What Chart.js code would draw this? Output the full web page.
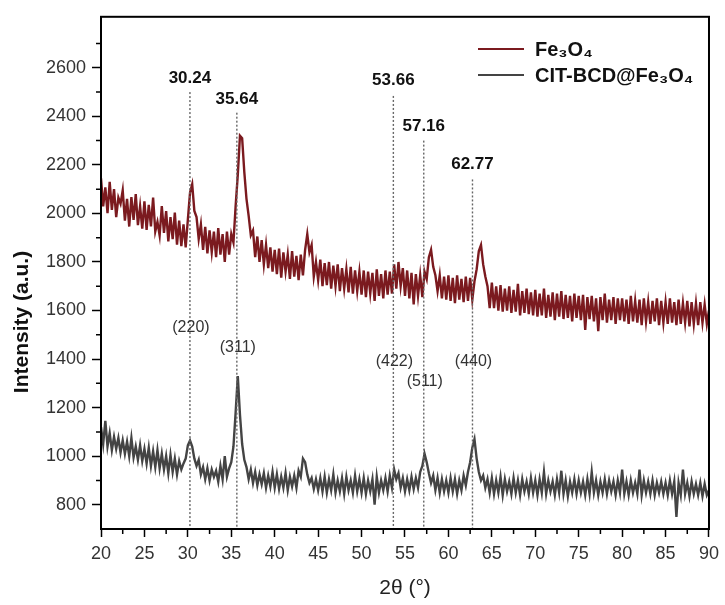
<!DOCTYPE html>
<html>
<head>
<meta charset="utf-8">
<script src="https://cdn.jsdelivr.net/npm/chart.js@4.4.1/dist/chart.umd.min.js"></script>
<style>
  html, body { margin: 0; padding: 0; background: #fff; }
  #wrap { width: 725px; height: 605px; }
</style>
</head>
<body>
<div id="wrap"><canvas id="xrd"></canvas></div>
<script>
// XRD patterns, every 0.25 deg from 20 to 90
const angleStart = 20;
const angleStep = 0.25;

const fe3o4 = [
  2145, 2029, 2107, 2001, 2130, 2015, 2100, 1985, 2065, 2040, 2095, 1970, 2060, 1946, 2067, 1973, 2080, 1952, 2030, 1937,
  2050, 1932, 2035, 1947, 2065, 1926, 1965, 1909, 2030, 1920, 2010, 1885, 1985, 1894, 2003, 1871, 1970, 1865, 1955, 1860,
  1975, 2085, 2120, 2010, 1985, 1895, 1955, 1850, 1945, 1835, 1930, 1840, 1925, 1820, 1940, 1830, 1915, 1800, 1925, 1830,
  1915, 1880, 2030, 2160, 2320, 2310, 2170, 2060, 1990, 1910, 1930, 1820, 1905, 1800, 1890, 1790, 1870, 1775, 1860, 1760,
  1850, 1750, 1855, 1735, 1840, 1760, 1830, 1730, 1845, 1740, 1825, 1725, 1830, 1745, 1850, 1915, 1840, 1870, 1740, 1800,
  1725, 1810, 1700, 1795, 1705, 1800, 1690, 1785, 1700, 1790, 1680, 1775, 1690, 1770, 1675, 1780, 1670, 1765, 1680, 1760,
  1665, 1765, 1655, 1760, 1670, 1755, 1640, 1770, 1660, 1750, 1650, 1765, 1665, 1760, 1670, 1790, 1690, 1800, 1700, 1775,
  1660, 1765, 1650, 1755, 1625, 1750, 1660, 1745, 1655, 1760, 1730, 1820, 1850, 1780, 1745, 1680, 1745, 1650, 1740, 1645,
  1745, 1640, 1735, 1630, 1745, 1645, 1730, 1635, 1740, 1640, 1735, 1645, 1720, 1770, 1845, 1870, 1790, 1740, 1700, 1610,
  1715, 1610, 1700, 1600, 1705, 1595, 1690, 1600, 1700, 1590, 1685, 1595, 1710, 1580, 1680, 1590, 1690, 1585, 1675, 1580,
  1685, 1575, 1670, 1580, 1690, 1570, 1665, 1575, 1675, 1560, 1670, 1575, 1680, 1565, 1665, 1570, 1660, 1555, 1670, 1570,
  1660, 1560, 1665, 1520, 1655, 1565, 1660, 1555, 1650, 1515, 1655, 1560, 1670, 1550, 1645, 1560, 1655, 1545, 1650, 1560,
  1650, 1555, 1645, 1545, 1660, 1555, 1640, 1550, 1645, 1540, 1650, 1555, 1635, 1545, 1640, 1555, 1650, 1540, 1640, 1550,
  1635, 1545, 1650, 1550, 1635, 1540, 1645, 1545, 1630, 1550, 1640, 1535, 1635, 1545, 1630, 1540, 1635, 1550, 1625, 1545, 1600
];

const citBcd = [
  1120, 1050, 1145, 1040, 1095, 1025, 1080, 1030, 1075, 1015, 1065, 1010, 1060, 1000, 1075, 995, 1040, 985, 1045, 980,
  1030, 970, 1035, 960, 1020, 955, 1025, 950, 1010, 945, 1000, 930, 1005, 935, 990, 925, 980, 945, 970, 990,
  1045, 1065, 1040, 990, 960, 985, 925, 955, 905, 950, 900, 945, 915, 940, 895, 960, 905, 1000, 915, 950,
  975, 1040, 1180, 1330, 1170, 1050, 985, 955, 905, 945, 890, 935, 880, 925, 885, 930, 870, 920, 875, 935,
  870, 925, 865, 915, 870, 930, 860, 915, 875, 920, 870, 940, 915, 990, 975, 925, 890, 910, 865, 905,
  860, 910, 855, 915, 850, 905, 860, 925, 850, 900, 855, 910, 845, 915, 860, 900, 850, 920, 855, 905,
  850, 910, 845, 900, 855, 905, 800, 915, 850, 900, 860, 910, 855, 920, 870, 945, 905, 930, 870, 910,
  855, 905, 860, 915, 865, 910, 870, 935, 960, 1010, 975, 930, 890, 920, 860, 910, 850, 905, 855, 900,
  850, 910, 855, 905, 845, 900, 860, 920, 880, 935, 975, 1035, 1070, 990, 935, 900, 920, 870, 905, 850,
  910, 845, 900, 850, 915, 840, 905, 855, 895, 845, 910, 850, 900, 840, 905, 855, 895, 845, 910, 850,
  900, 840, 905, 850, 935, 845, 900, 855, 895, 840, 905, 850, 940, 845, 900, 835, 895, 850, 905, 845,
  900, 850, 895, 840, 905, 845, 935, 850, 900, 840, 895, 850, 905, 845, 900, 855, 895, 840, 900, 850,
  945, 845, 895, 840, 900, 850, 890, 845, 945, 840, 900, 850, 895, 845, 900, 840, 890, 850, 895, 845,
  890, 840, 900, 845, 895, 750, 890, 840, 945, 845, 890, 835, 895, 845, 885, 840, 890, 835, 885, 840, 860
];

// reflections marked on the figure
const peakAngles = [30.24, 35.64, 53.66, 57.16, 62.77];
const peakLabels = ["30.24", "35.64", "53.66", "57.16", "62.77"];
const millerLabels = ["(220)", "(311)", "(422)", "(511)", "(440)"];

const seriesNames = ["Fe\u2083O\u2084", "CIT-BCD@Fe\u2083O\u2084"];

// where the annotations sit (intensity units)
const peakLabelY = [2558, 2472, 2550, 2357, 2202];
const dashTopY = [2500, 2415, 2484, 2300, 2140];
const millerY = [1528, 1446, 1390, 1308, 1390];

const FONT = "'Liberation Sans', Arial, Helvetica, sans-serif";
Chart.defaults.font.family = FONT;

const toPoints = arr => arr.map((v, i) => ({ x: angleStart + i * angleStep, y: v }));

const decor = {
  id: "decor",
  afterDraw(chart) {
    const { ctx, chartArea: a, scales: { x, y } } = chart;
    ctx.save();

    // dashed peak markers
    ctx.strokeStyle = "#666";
    ctx.lineWidth = 1.4;
    ctx.setLineDash([2, 2]);
    peakAngles.forEach((p, i) => {
      const px = x.getPixelForValue(p);
      ctx.beginPath();
      ctx.moveTo(px, y.getPixelForValue(dashTopY[i]));
      ctx.lineTo(px, a.bottom);
      ctx.stroke();
    });
    ctx.setLineDash([]);

    ctx.textAlign = "center";
    ctx.textBaseline = "middle";
    ctx.fillStyle = "#111";
    ctx.font = "bold 17px " + FONT;
    peakAngles.forEach((p, i) => {
      ctx.fillText(peakLabels[i], x.getPixelForValue(p), y.getPixelForValue(peakLabelY[i]));
    });
    ctx.fillStyle = "#333";
    ctx.font = "16px " + FONT;
    peakAngles.forEach((p, i) => {
      ctx.fillText(millerLabels[i], x.getPixelForValue(p) + 1, y.getPixelForValue(millerY[i]));
    });

    // frame
    ctx.strokeStyle = "#000";
    ctx.lineWidth = 2;
    ctx.strokeRect(a.left, a.top, a.right - a.left, a.bottom - a.top);

    // minor ticks
    ctx.lineWidth = 1.5;
    ctx.beginPath();
    for (let v = 22.5; v < 90; v += 5) {
      const px = x.getPixelForValue(v);
      ctx.moveTo(px, a.bottom);
      ctx.lineTo(px, a.bottom + 5);
    }
    for (let v = 900; v <= 2700; v += 200) {
      const py = y.getPixelForValue(v);
      ctx.moveTo(a.left, py);
      ctx.lineTo(a.left - 5, py);
    }
    ctx.stroke();

    // y title
    ctx.save();
    ctx.translate(22, 322);
    ctx.rotate(-Math.PI / 2);
    ctx.fillStyle = "#111";
    ctx.font = "bold 21px " + FONT;
    ctx.fillText("Intensity (a.u.)", 0, 0);
    ctx.restore();

    // legend
    const legendY = [49, 75];
    chart.data.datasets.forEach((ds, i) => {
      ctx.strokeStyle = ds.borderColor;
      ctx.lineWidth = 2;
      ctx.beginPath();
      ctx.moveTo(478, legendY[i]);
      ctx.lineTo(524, legendY[i]);
      ctx.stroke();
      ctx.fillStyle = "#111";
      ctx.textAlign = "left";
      ctx.font = "bold 20px " + FONT;
      ctx.fillText(ds.label, 535, legendY[i] + 1);
    });

    ctx.restore();
  }
};

new Chart(document.getElementById("xrd"), {
  type: "line",
  data: {
    datasets: [
      { label: seriesNames[0], data: toPoints(fe3o4), borderColor: "#7b1a1f", borderWidth: 2.4, pointRadius: 0, tension: 0 },
      { label: seriesNames[1], data: toPoints(citBcd), borderColor: "#444", borderWidth: 2.4, pointRadius: 0, tension: 0 }
    ]
  },
  options: {
    responsive: true, maintainAspectRatio: false, animation: false,
    layout: { padding: { left: 0, right: 13, top: 14, bottom: 0 } },
    plugins: { legend: { display: false }, tooltip: { enabled: false } },
    scales: {
      x: {
        type: "linear", min: 20, max: 90,
        ticks: { stepSize: 5, color: "#333", font: { size: 18 }, padding: 6, maxRotation: 0 },
        grid: { drawOnChartArea: false, tickLength: 8, tickColor: "#000", tickWidth: 1.5 },
        border: { color: "#000", width: 2 },
        title: { display: true, text: "2θ (°)", color: "#222", font: { size: 21 }, padding: { top: 0, bottom: 4 } },
        afterFit: s => { s.height = 76; }
      },
      y: {
        min: 700, max: 2810,
        ticks: { stepSize: 200, color: "#333", font: { size: 18 }, padding: 6, callback: v => String(v) },
        afterBuildTicks: s => { s.ticks = s.ticks.filter(t => t.value >= 800 && t.value <= 2600 && t.value % 200 === 0); },
        grid: { drawOnChartArea: false, tickLength: 9, tickColor: "#000", tickWidth: 1.5 },
        border: { color: "#000", width: 2 },
        afterFit: s => { s.width = 101; }
      }
    }
  },
  plugins: [decor]
});
</script>
</body>
</html>
